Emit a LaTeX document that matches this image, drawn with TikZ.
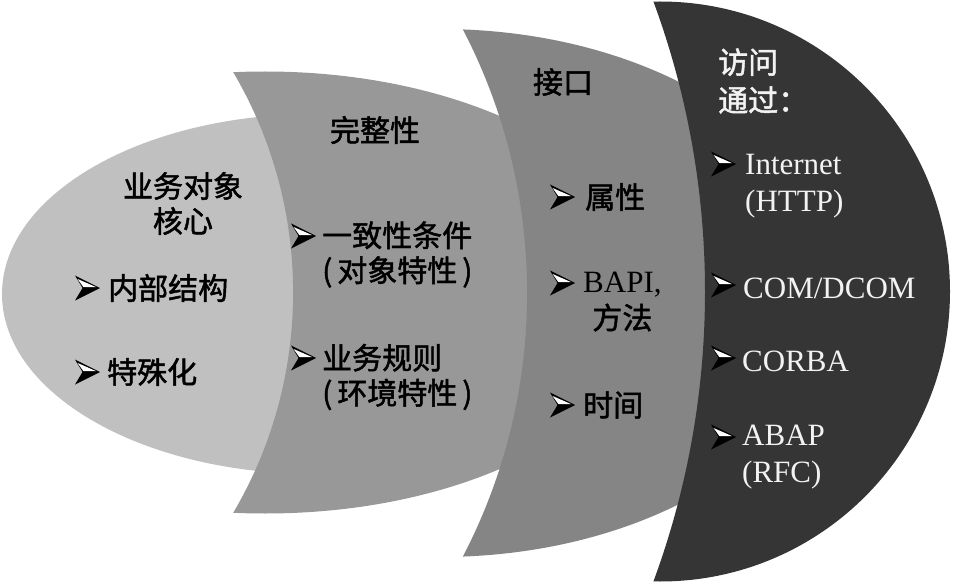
\documentclass[tikz,border=0pt]{standalone}
\usepackage{fontspec}
\setmainfont{Liberation Serif}
\newfontfamily\cjk{Noto Sans CJK SC}[FakeBold=1.6]
\definecolor{cone}{RGB}{192,192,192}
\definecolor{ctwo}{RGB}{152,152,152}
\definecolor{cthree}{RGB}{133,133,133}
\definecolor{cfour}{RGB}{53,53,53}
\definecolor{ltext}{RGB}{242,242,242}
\tikzset{
  ctext/.style={inner sep=0pt, text=black, font={\cjk\fontsize{30}{35}\selectfont}},
  wctext/.style={inner sep=0pt, text=ltext, font={\cjk\fontsize{30}{38}\selectfont}},
  wltext/.style={inner sep=0pt, text=ltext, font={\rmfamily\fontsize{31}{37}\selectfont}},
  bul/.pic={
    \fill[black] (0,-12.5) -- (25,0) -- (0,12.5) -- (7.5,0) -- cycle;
    \fill[white] (2.6,-9) -- (21,-0.9) -- (8.4,-0.9) -- cycle;
  }
}
\begin{document}
\begin{tikzpicture}[x=1pt,y=-1pt]
\useasboundingbox (0,0) rectangle (954,583);
% layer 1: core ellipse
\fill[cone] (315,294) ellipse [x radius=313, y radius=180];
% layer 2
\begin{scope}
  \clip (265,292.5) ellipse [x radius=390, y radius=221];
  \fill[ctwo, even odd rule] (-700,-700) rectangle (1700,1300)
        (-141.6,292.5) circle [radius=434.7];
\end{scope}
% layer 3
\begin{scope}
  \clip (440,293) ellipse [x radius=398, y radius=264];
  \fill[cthree, even odd rule] (-700,-700) rectangle (1700,1300)
        (-44.7,293) circle [radius=571.8];
\end{scope}
% layer 4
\begin{scope}
  \clip (660,291.5) circle [radius=290];
  \fill[cfour, even odd rule] (-1200,-700) rectangle (1700,1300)
        (-132,291.5) circle [radius=837];
\end{scope}

% texts layer 1
\node[ctext, align=center] (core) at (183,203.5) {业务对象\\核心};
\pic at (75,288) {bul};
\node[ctext, anchor=west] (inner) at (108,288) {内部结构};
\pic at (75,372) {bul};
\node[ctext, anchor=west] (spec) at (107,372) {特殊化};

% texts layer 2
\node[ctext] (integ) at (375,130) {完整性};
\pic at (291,236) {bul};
\node[ctext, anchor=west, align=left] (cons) at (322,254.5) {一致性条件\\(\,对象特性\,)};
\pic at (291,358) {bul};
\node[ctext, anchor=west, align=left] (rule) at (322,377) {业务规则\\(\,环境特性\,)};

% texts layer 3
\node[ctext] (iface) at (563,82) {接口};
\pic at (550,197) {bul};
\node[ctext, anchor=west] (attr) at (585,197) {属性};
\pic at (550,283) {bul};
\node[ctext, anchor=west, align=center, font={\cjk\fontsize{30}{37}\selectfont}] (bapi) at (583,301.5) {{\rmfamily\fontsize{31}{37}\selectfont BAPI,}\\方法};
\pic at (550,405) {bul};
\node[ctext, anchor=west] (time) at (583,405) {时间};

% texts layer 4
\node[wctext, anchor=west, align=left] (access) at (718,81) {访问\\通过：};
\pic at (711,164) {bul};
\node[wltext, anchor=west, align=left] (inet) at (745,186) {Internet\\(HTTP)};
\pic at (711,285) {bul};
\node[wltext, anchor=west] (com) at (743,288) {COM/DCOM};
\pic at (711,358) {bul};
\node[wltext, anchor=west] (corba) at (742,361) {CORBA};
\pic at (711,437) {bul};
\node[wltext, anchor=west, align=left] (abap) at (742,457) {ABAP\\(RFC)};
\end{tikzpicture}
\end{document}
